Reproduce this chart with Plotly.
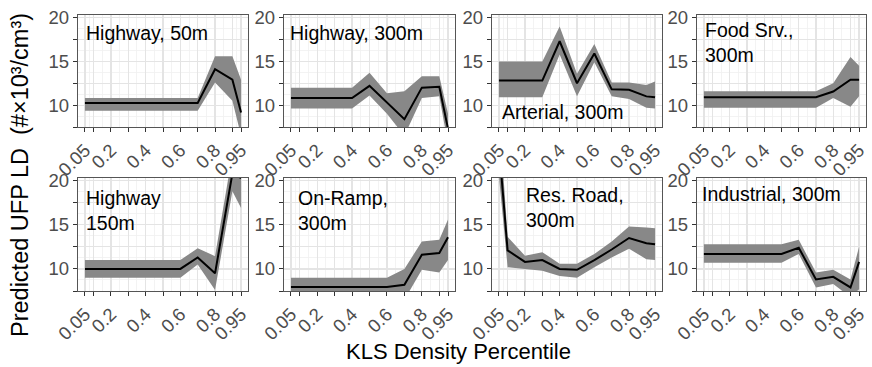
import plotly.graph_objects as go

# ---------------- data ----------------
percentiles = [0.05, 0.1, 0.2, 0.3, 0.4, 0.5, 0.6, 0.7, 0.8, 0.9, 0.95]
tick_labels = ["0.05", "", "0.2", "", "0.4", "", "0.6", "", "0.8", "", "0.95"]

panel_titles = ["Highway, 50m", "Highway, 300m", "Arterial, 300m", "Food Srv.,<br>300m",
                "Highway<br>150m", "On-Ramp,<br>300m", "Res. Road,<br>300m", "Industrial, 300m"]

hw50_fit = [10.25, 10.25, 10.25, 10.25, 10.25, 10.25, 10.25, 10.25, 14.1, 12.9, 9.15]
hw50_lo = [9.35, 9.35, 9.35, 9.35, 9.35, 9.35, 9.35, 9.35, 12.6, 10.5, 6.5]
hw50_hi = [10.8, 10.8, 10.8, 10.8, 10.8, 10.8, 10.8, 10.8, 15.6, 15.6, 12.9]

hw300_fit = [10.8, 10.8, 10.8, 10.8, 10.8, 12.2, 10.3, 8.4, 12.0, 12.1, 7.3]
hw300_lo = [9.6, 9.6, 9.6, 9.6, 9.6, 11.1, 9.0, 6.5, 10.8, 11.0, 5.5]
hw300_hi = [12.0, 12.0, 12.0, 12.0, 12.0, 13.7, 11.35, 11.6, 13.3, 13.3, 9.0]

art_fit = [12.8, 12.8, 12.8, 12.8, 17.3, 12.5, 15.9, 11.8, 11.75, 11.0, 10.9]
art_lo = [10.9, 10.9, 10.9, 10.9, 15.8, 11.0, 14.9, 11.0, 10.7, 9.7, 9.6]
art_hi = [15.0, 15.0, 15.0, 15.0, 19.0, 13.6, 17.0, 12.6, 12.6, 12.3, 12.7]

food_fit = [10.9, 10.9, 10.9, 10.9, 10.9, 10.9, 10.9, 10.9, 11.55, 12.9, 12.9]
food_lo = [9.7, 9.7, 9.7, 9.7, 9.7, 9.7, 9.7, 9.7, 10.8, 9.8, 11.0]
food_hi = [11.6, 11.6, 11.6, 11.6, 11.6, 11.6, 11.6, 11.6, 12.5, 15.5, 14.5]

hw150_fit = [10.0, 10.0, 10.0, 10.0, 10.0, 10.0, 10.0, 11.3, 9.5, 20.8, 20.3]
hw150_lo = [9.0, 9.0, 9.0, 9.0, 9.0, 9.0, 9.0, 10.5, 7.6, 18.8, 16.9]
hw150_hi = [11.0, 11.0, 11.0, 11.0, 11.0, 11.0, 11.0, 12.35, 11.45, 23.0, 22.0]

ramp_fit = [7.95, 7.95, 7.95, 7.95, 7.95, 7.95, 7.95, 8.2, 11.6, 11.8, 13.6]
ramp_lo = [7.0, 7.0, 7.0, 7.0, 7.0, 7.0, 7.0, 6.5, 9.9, 9.6, 11.0]
ramp_hi = [9.0, 9.0, 9.0, 9.0, 9.0, 9.0, 9.0, 10.0, 13.1, 13.3, 15.6]

res_fit = [24.0, 12.1, 10.8, 11.0, 10.0, 9.9, 11.0, 12.2, 13.5, 12.9, 12.8]
res_lo = [20.5, 10.2, 10.0, 9.8, 9.2, 9.0, 10.2, 11.3, 12.3, 11.1, 11.0]
res_hi = [28.0, 13.65, 11.5, 11.9, 10.6, 10.6, 11.7, 13.1, 14.8, 14.7, 14.6]

ind_fit = [11.7, 11.7, 11.7, 11.7, 11.7, 11.7, 12.4, 8.8, 9.1, 7.9, 10.8]
ind_lo = [10.7, 10.7, 10.7, 10.7, 10.7, 10.7, 11.7, 7.9, 8.3, 6.8, 7.7]
ind_hi = [12.8, 12.8, 12.8, 12.8, 12.8, 12.8, 13.3, 9.6, 9.9, 8.8, 12.5]

fits = [hw50_fit, hw300_fit, art_fit, food_fit, hw150_fit, ramp_fit, res_fit, ind_fit]
los = [hw50_lo, hw300_lo, art_lo, food_lo, hw150_lo, ramp_lo, res_lo, ind_lo]
his = [hw50_hi, hw300_hi, art_hi, food_hi, hw150_hi, ramp_hi, res_hi, ind_hi]

y_ticks = [7.5, 10, 12.5, 15, 17.5, 20]
y_tick_labels = ["", "10", "", "15", "", "20"]

# ---------------- layout geometry ----------------
W, H = 872, 367
col_px = [(78, 248), (284, 455), (492, 662), (697, 866)]
row_px = [(15, 127), (178, 291)]

# label placement: (x px, y px, yanchor)
label_pos = [(84, 20, "top"), (288, 20, "top"), (500, 125, "bottom"), (703, 17, "top"),
             (84, 185, "top"), (296, 185, "top"), (524, 182, "top"), (700, 181, "top")]

fig = go.Figure()
layout = dict(template="none", width=W, height=H, margin=dict(l=0, r=0, t=0, b=0, pad=0),
              paper_bgcolor="white", plot_bgcolor="white", showlegend=False,
              font=dict(family="Liberation Sans, Arial, sans-serif", color="#000000"))

annotations = []
for i in range(8):
    r, c = divmod(i, 4)
    ax_id = "" if i == 0 else str(i + 1)
    xa, ya = "x" + ax_id, "y" + ax_id
    x0, x1 = col_px[c]
    t0, t1 = row_px[r]
    layout["xaxis" + ax_id] = dict(
        domain=[x0 / W, x1 / W], range=[0.01, 0.99], anchor=ya, automargin=False,
        tickmode="array", tickvals=percentiles, ticktext=tick_labels,
        tickangle=-45, ticks="outside", ticklen=4, tickcolor="#333333", tickwidth=1,
        tickfont=dict(size=18.5, color="#4d4d4d"),
        showgrid=True, gridcolor="#e4e4e4", gridwidth=1.2,
        minor=dict(tickvals=[0.075, 0.15, 0.25, 0.35, 0.45, 0.55, 0.65, 0.75, 0.85, 0.925],
                   showgrid=True, gridcolor="#f0f0f0", gridwidth=0.8, ticks=""),
        showline=True, mirror=True, linecolor="#555555", linewidth=1.2,
        zeroline=False, fixedrange=True)
    layout["yaxis" + ax_id] = dict(
        domain=[1 - t1 / H, 1 - t0 / H], range=[7.5, 20.3], anchor=xa, automargin=False,
        tickmode="array", tickvals=y_ticks, ticktext=y_tick_labels,
        ticks="outside", ticklen=4, tickcolor="#333333", tickwidth=1,
        tickfont=dict(size=18.5, color="#4d4d4d"),
        showgrid=True, gridcolor="#e4e4e4", gridwidth=1.2,
        minor=dict(tickvals=[8.75, 11.25, 13.75, 16.25, 18.75],
                   showgrid=True, gridcolor="#f0f0f0", gridwidth=0.8, ticks=""),
        showline=True, mirror=True, linecolor="#555555", linewidth=1.2,
        zeroline=False, fixedrange=True)

    fig.add_trace(go.Scatter(
        x=percentiles + percentiles[::-1], y=his[i] + los[i][::-1],
        fill="toself", fillcolor="rgb(136,136,136)", mode="none",
        xaxis=xa, yaxis=ya, hoverinfo="skip"))
    fig.add_trace(go.Scatter(
        x=percentiles, y=fits[i], mode="lines",
        line=dict(color="black", width=2), xaxis=xa, yaxis=ya))

    lx, ly, yanc = label_pos[i]
    annotations.append(dict(
        text=panel_titles[i], x=lx / W, y=1 - ly / H, xref="paper", yref="paper",
        xanchor="left", yanchor=yanc, showarrow=False, align="left",
        font=dict(size=19.5, color="#000000")))

annotations.append(dict(
    text="KLS Density Percentile", x=458 / W, y=1 - 351 / H, xref="paper", yref="paper",
    xanchor="center", yanchor="middle", showarrow=False, font=dict(size=22, color="#000000")))
annotations.append(dict(
    text="Predicted UFP LD\u00a0\u00a0(#×10³/cm³)", x=20 / W, y=1 - 175 / H,
    xref="paper", yref="paper", xanchor="center", yanchor="middle", textangle=-90,
    showarrow=False, font=dict(size=23.5, color="#000000")))

layout["annotations"] = annotations
fig.update_layout(**layout)
fig.write_html(
    "out.html",
    config={"displayModeBar": False, "staticPlot": True},
    post_script="document.body.style.margin='0';document.body.style.padding='0';"
                "document.body.style.overflow='hidden';")
